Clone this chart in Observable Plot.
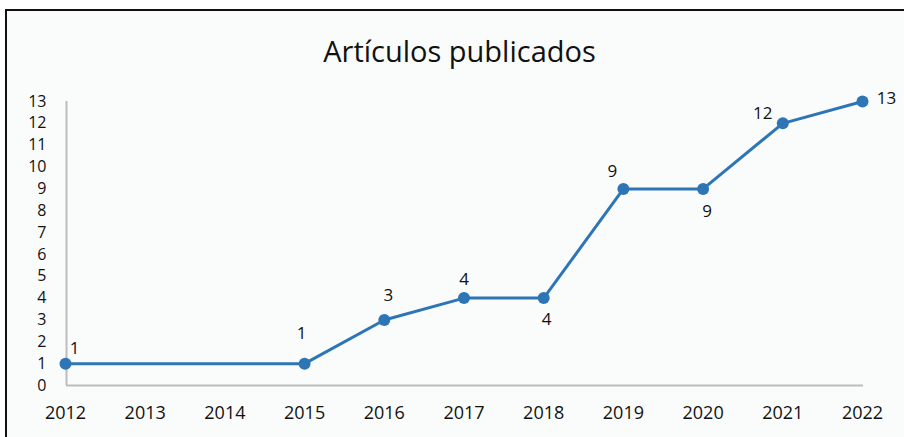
<!DOCTYPE html>
<html>
<head>
<meta charset="utf-8">
<script src="https://cdn.jsdelivr.net/npm/d3@7"></script>
<script src="https://cdn.jsdelivr.net/npm/@observablehq/plot@0.6"></script>
<style>
  html, body { margin: 0; padding: 0; background: #ffffff; }
  #wrap { position: relative; width: 904px; height: 437px; overflow: hidden; }
  #frame { position: absolute; left: 5px; top: 9px; width: 1000px; height: 500px;
           border: 2px solid #111; background: #fafcfc; box-sizing: border-box; }
  #title { position: absolute; left: 0; top: 31px; width: 919px; text-align: center;
           font-family: "Open Sans", sans-serif; font-size: 29px; color: #111; }
  #chart { position: absolute; left: 0; top: 0; }
  #chart g[aria-label^="x-axis"] text { font-size: 18px !important; }
  #chart g[aria-label^="y-axis"] text { font-size: 16px !important; }
  #chart g[aria-label="text"] text { font-size: 17px !important; }
</style>
</head>
<body>
<div id="wrap">
  <div id="frame"></div>
  <div id="title">Artículos publicados</div>
  <div id="chart"></div>
</div>
<script>
const years = [2012, 2015, 2016, 2017, 2018, 2019, 2020, 2021, 2022];
const articles = [1, 1, 3, 4, 4, 9, 9, 12, 13];
const xTicks = [2012, 2013, 2014, 2015, 2016, 2017, 2018, 2019, 2020, 2021, 2022];
const yTicks = [0, 1, 2, 3, 4, 5, 6, 7, 8, 9, 10, 11, 12, 13];

// label offsets (style only, in pixels)
const labelOffsets = [[9, -15], [-3, -30], [4, -24], [0, -19], [3, 21], [-11, -17], [4, 23], [-20, -10], [24, -3]];

const data = years.map((y, i) => ({year: y, value: articles[i], i}));
const blue = "#2e75b6";

const labelMarks = labelOffsets.map((off, k) =>
  Plot.text(data.filter(d => d.i === k), {
    x: "year", y: "value", text: d => String(d.value),
    dx: off[0], dy: off[1], fontSize: 17, fill: "#111"
  })
);

const chart = Plot.plot({
  width: 904,
  height: 437,
  marginLeft: 65,
  marginRight: 42,
  marginTop: 101,
  marginBottom: 52,
  style: { background: "transparent", fontFamily: "'Open Sans', sans-serif", color: "#111" },
  x: { domain: [2012, 2022] },
  y: { domain: [0, 13] },
  marks: [
    Plot.axisX({ ticks: xTicks, tickFormat: d => String(d), tickSize: 0, tickPadding: 21, fontSize: 18, label: null, fill: "#111" }),
    Plot.axisY({ ticks: yTicks, tickSize: 0, tickPadding: 19, fontSize: 16, label: null, fill: "#111" }),
    Plot.ruleY([0], { x1: 2012, x2: 2022, stroke: "#bcbcbc", strokeWidth: 2, dx: 1 }),
    Plot.ruleX([2012], { y1: 0, y2: 13, stroke: "#bcbcbc", strokeWidth: 2, dx: 1 }),
    Plot.line(data, { x: "year", y: "value", stroke: blue, strokeWidth: 3 }),
    Plot.dot(data, { x: "year", y: "value", r: 6, fill: blue, stroke: "none" }),
    ...labelMarks
  ]
});
document.getElementById("chart").appendChild(chart);
</script>
</body>
</html>
